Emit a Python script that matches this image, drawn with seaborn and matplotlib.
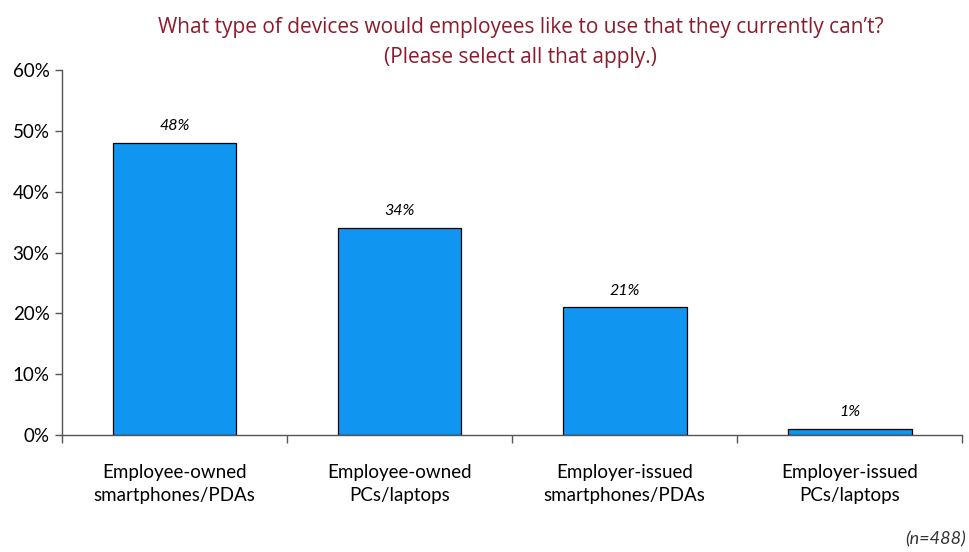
import matplotlib
matplotlib.use("Agg")
import matplotlib.pyplot as plt
import seaborn as sns
import pandas as pd
from matplotlib.ticker import FixedLocator, PercentFormatter

categories = [
    "Employee-owned\nsmartphones/PDAs",
    "Employee-owned\nPCs/laptops",
    "Employer-issued\nsmartphones/PDAs",
    "Employer-issued\nPCs/laptops",
]
shares = [48, 34, 21, 1]
y_ticks = [0, 10, 20, 30, 40, 50, 60]

df = pd.DataFrame({"device": categories, "share": shares})

sns.set_theme(style="white")
plt.rcParams["font.family"] = ["Lato", "DejaVu Sans"]

fig = plt.figure(figsize=(9.69, 5.52), dpi=100)
ax = fig.add_axes([0.064, 0.212, 0.929, 0.661])

sns.barplot(data=df, x="device", y="share", color="#1096F0", width=0.55,
            edgecolor="black", linewidth=0.9, saturation=1, ax=ax)

for i, v in enumerate(shares):
    ax.text(i, v + 1.6, f"{v}%", ha="center", va="bottom", fontsize=11.5,
            style="italic", color="black")

ax.set_xlim(-0.5, 3.5)
ax.set_ylim(0, 60)
ax.set_yticks(y_ticks)
ax.yaxis.set_major_formatter(PercentFormatter(decimals=0))
ax.set_xlabel("")
ax.set_ylabel("")

for s in ["top", "right"]:
    ax.spines[s].set_visible(False)
for s in ["left", "bottom"]:
    ax.spines[s].set_color("#555555")
    ax.spines[s].set_linewidth(1.0)

ax.tick_params(axis="y", which="major", left=True, length=5, width=1,
               color="#555555", labelsize=13.5, pad=4, labelcolor="black")
ax.tick_params(axis="x", which="major", bottom=False, length=0,
               labelsize=13.5, pad=21, labelcolor="black")
for lbl in ax.get_xticklabels():
    lbl.set_linespacing(1.45)
ax.xaxis.set_minor_locator(FixedLocator([-0.5, 0.5, 1.5, 2.5, 3.5]))
ax.tick_params(axis="x", which="minor", bottom=True, length=6, width=1,
               color="#555555", direction="out")

fig.text(0.537, 0.95, "What type of devices would employees like to use that they currently can\u2019t?",
         ha="center", va="center", fontsize=15, color="#8E1B2C",
         family=["Open Sans", "DejaVu Sans"])
fig.text(0.537, 0.896, "(Please select all that apply.)",
         ha="center", va="center", fontsize=15, color="#8E1B2C",
         family=["Open Sans", "DejaVu Sans"])

fig.text(0.997, 0.022, "(n=488)", ha="right", va="center", fontsize=13,
         style="italic", color="#333333")

fig.savefig("out.png", dpi=100)
